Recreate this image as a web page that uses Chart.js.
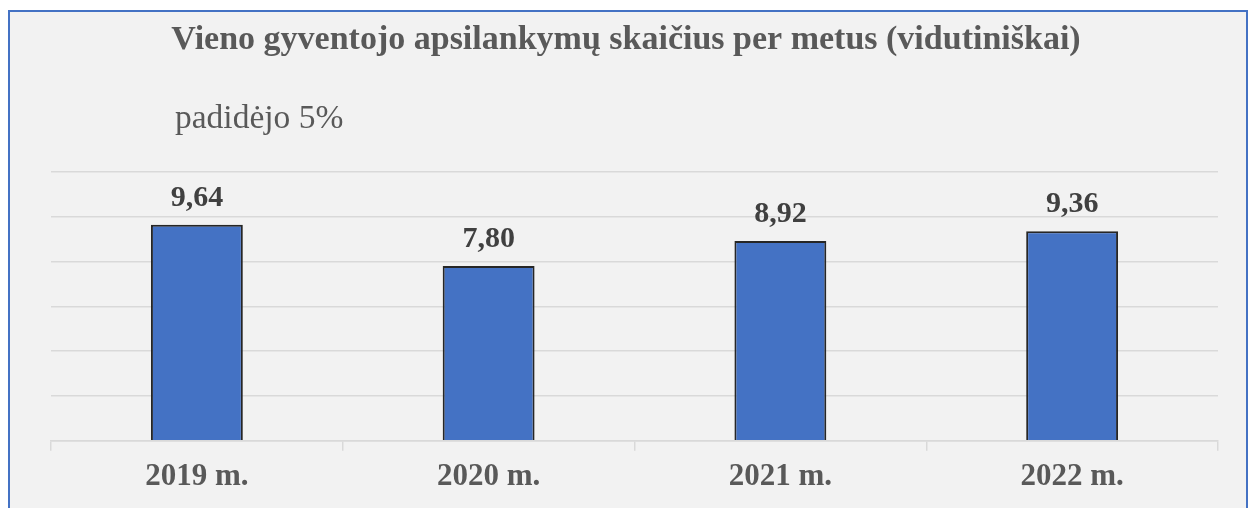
<!DOCTYPE html>
<html>
<head>
<meta charset="utf-8">
<script src="https://cdn.jsdelivr.net/npm/chart.js@4"></script>
<style>
  body { margin: 0; background: #ffffff; }
  #frame { position: absolute; left: 8px; top: 10px; width: 1236px; height: 520px;
           border: 2px solid #4472c4; background: #f2f2f2; }
  #myChart { position: absolute; left: 0; top: 0; }
</style>
</head>
<body>
<div id="frame"></div>
<canvas id="myChart" width="1252" height="508"></canvas>
<script>
var chartTitle = 'Vieno gyventojo apsilankymų skaičius per metus (vidutiniškai)';
var chartNote = 'padidėjo 5%';
var years = ['2019 m.', '2020 m.', '2021 m.', '2022 m.'];
var visits = [9.64, 7.80, 8.92, 9.36];

// title, note and value labels
var textPlugin = {
	id: 'texts',
	afterDatasetsDraw: function(chart) {
		var ctx = chart.ctx;
		ctx.save();
		ctx.fillStyle = '#595959';
		ctx.textAlign = 'center';
		ctx.textBaseline = 'alphabetic';
		ctx.font = 'bold 34px "Liberation Serif"';
		ctx.fillText(chartTitle, chart.width / 2, 49);

		ctx.textAlign = 'left';
		ctx.font = '33.5px "Liberation Serif"';
		ctx.fillText(chartNote, 175, 128);

		ctx.textAlign = 'center';
		ctx.fillStyle = '#404040';
		ctx.font = 'bold 30px "Liberation Serif"';
		chart.getDatasetMeta(0).data.forEach(function(bar, i) {
			ctx.fillText(visits[i].toFixed(2).replace('.', ','), bar.x, bar.y - 19);
		});
		ctx.restore();
	}
};

var ctx = document.getElementById('myChart');
var mychart = new Chart(ctx, {
	type: 'bar',
	data: {
		labels: years,
		datasets: [{
			data: visits,
			backgroundColor: '#4472c4',
			borderColor: '#262626',
			borderWidth: 2,
			categoryPercentage: 1,
			barPercentage: 0.315
		}]
	},
	options: {
		responsive: false,
		animation: false,
		layout: { padding: { left: 51, right: 34, top: 172, bottom: 4 } },
		plugins: {
			legend: { display: false },
			title: { display: false },
			tooltip: { enabled: false }
		},
		scales: {
			x: {
				grid: {
					offset: true,
					drawOnChartArea: false,
					tickLength: 10,
					color: '#d9d9d9',
					lineWidth: 1.5
				},
				border: { color: '#d9d9d9', width: 1.5 },
				ticks: {
					padding: 8,
					color: '#595959',
					font: { family: 'Liberation Serif', size: 31, weight: 'bold' }
				}
			},
			y: {
				min: 0,
				max: 12,
				ticks: { stepSize: 2, display: false },
				grid: { color: '#d9d9d9', lineWidth: 1.5, drawTicks: false },
				border: { display: false }
			}
		}
	},
	plugins: [textPlugin]
});
</script>
</body>
</html>
